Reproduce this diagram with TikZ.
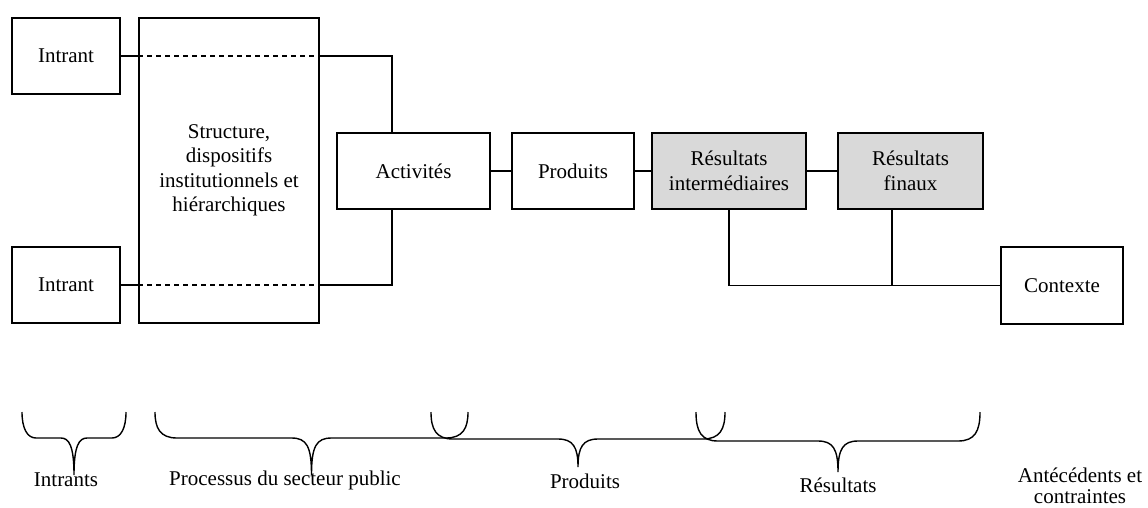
\documentclass[tikz,border=0pt]{standalone}
\usepackage{fontspec}
\setmainfont{Liberation Serif}
\definecolor{boxgray}{HTML}{D9D9D9}
\newcommand{\mybrace}[6]{% xl, xr, r, ylevel, ytip, rtip
  \draw[bracestyle] (#1,412) .. controls (#1,{#4-10}) and ({#1+5},#4) .. ({#1+#3},#4)
    -- ({(#1+#2)/2-#6},#4) .. controls ({(#1+#2)/2-5},#4) and ({(#1+#2)/2},{#4+8}) .. ({(#1+#2)/2},#5)
    .. controls ({(#1+#2)/2},{#4+8}) and ({(#1+#2)/2+5},#4) .. ({(#1+#2)/2+#6},#4)
    -- ({#2-#3},#4) .. controls ({#2-5},#4) and (#2,{#4-10}) .. (#2,412);}
\begin{document}
\begin{tikzpicture}[x=1pt,y=-1pt,
  every node/.style={font=\fontsize{21}{24.5}\selectfont},
  box/.style={draw,line width=1.6pt,inner sep=0pt,align=center,minimum height=76pt},
  conn/.style={line width=1.6pt},
  dotline/.style={line width=1.6pt,dash pattern=on 5pt off 4pt},
  bracestyle/.style={line width=1.4pt},
  lab/.style={align=center,inner sep=0pt}]
\useasboundingbox (0,0) rectangle (1148,507);
\node[box,minimum width=108pt] (in1) at (66,56) {Intrant};
\node[box,minimum width=108pt] (in2) at (66,285) {Intrant};
\node[box,minimum width=180pt,minimum height=305pt] (st) at (229,170.5) {Structure,\\dispositifs\\institutionnels et\\hiérarchiques};
\node[box,minimum width=153pt] (act) at (413.5,171) {Activités};
\node[box,minimum width=122pt] (prod) at (573,171) {Produits};
\node[box,minimum width=154pt,fill=boxgray] (rint) at (729,171) {Résultats\\intermédiaires};
\node[box,minimum width=145pt,fill=boxgray] (rfin) at (910.5,171) {Résultats\\finaux};
\node[box,minimum width=122pt,minimum height=77pt] (ctx) at (1062,285.5) {Contexte};
\coordinate (ja) at (392,0);
\coordinate (jf) at (892,0);
% top input line
\draw[conn] (in1.east) -- (in1.east -| st.west);
\draw[dotline] (in1.east -| st.west) -- (in1.east -| st.east);
\draw[conn] (in1.east -| st.east) -| (ja |- act.north);
% bottom input line
\draw[conn] (in2.east) -- (in2.east -| st.west);
\draw[dotline] (in2.east -| st.west) -- (in2.east -| st.east);
\draw[conn] (in2.east -| st.east) -| (ja |- act.south);
% chain
\draw[conn] (act.east) -- (prod.west);
\draw[conn] (prod.east) -- (rint.west);
\draw[conn] (rint.east) -- (rfin.west);
\draw[conn] (rint.south) |- (ctx.west);
\draw[conn] (jf |- rfin.south) -- (jf |- ctx.west);
% braces
\mybrace{22}{126}{14}{438}{475}{13}
\mybrace{155}{468}{22}{438}{475}{20}
\mybrace{431}{725}{22}{439}{467}{20}
\mybrace{696}{980}{22}{441}{472}{20}
% labels
\node[lab] (lin) at (66,480) {Intrants};
\node[lab] (lproc) at (285,480) {Processus du secteur public};
\node[lab] (lprod) at (585,481) {Produits};
\node[lab] (lres) at (838,485) {Résultats};
\node[lab] (lant) at (1080,486) {Antécédents et\\[-3pt]contraintes};
\end{tikzpicture}
\end{document}
